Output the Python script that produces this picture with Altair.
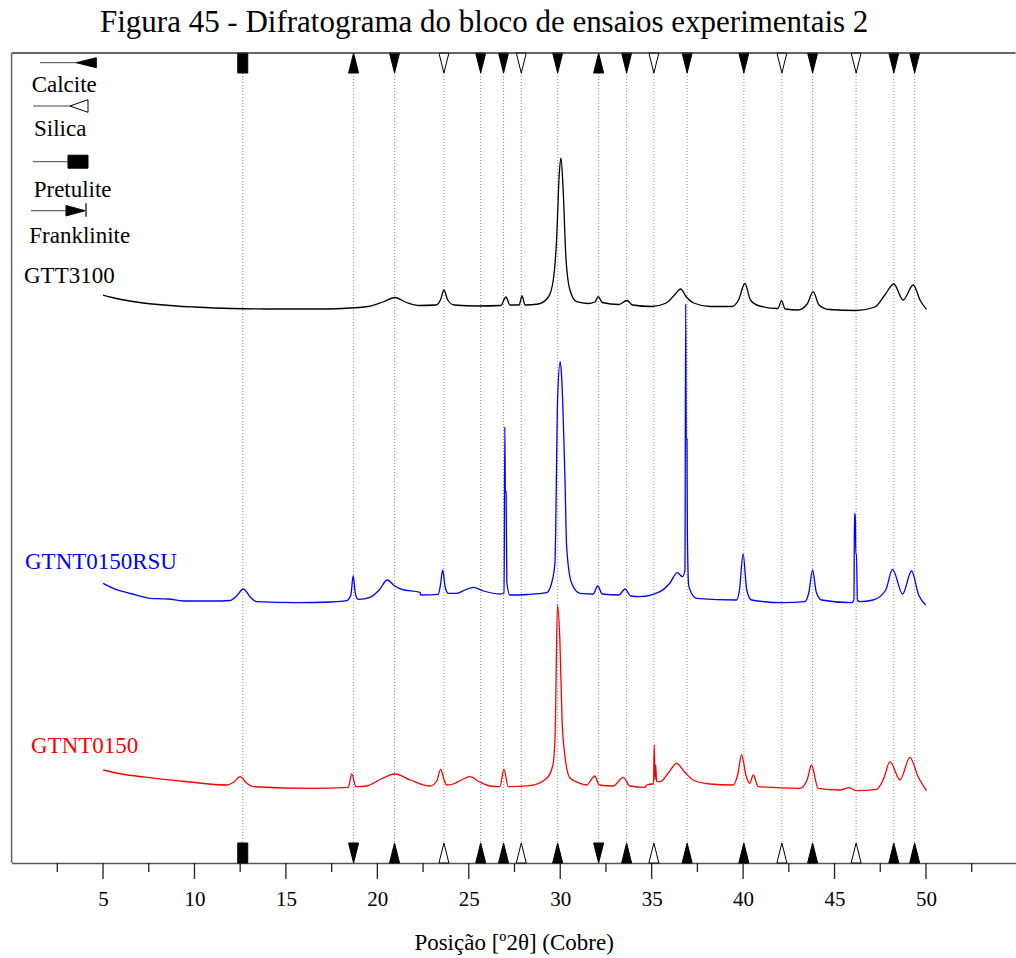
import altair as alt
import pandas as pd

# ---- diffraction patterns: 2θ (degrees) and stacked intensity (arbitrary units) ----
gtt3100_2theta = [5.0, 5.5, 6.0, 7.0, 8.0, 9.0, 10.0, 12.0, 14.0, 17.0, 18.5, 19.5, 20.3, 20.96,
                  21.6, 22.3, 23.2, 23.45, 23.64, 23.85, 24.2, 25.5, 26.75, 27.03, 27.25, 27.75,
                  27.91, 28.08, 28.8, 29.35, 29.62, 29.8, 29.95, 30.04, 30.16, 30.31, 30.53, 30.9,
                  31.5, 31.9, 32.08, 32.3, 33.2, 33.65, 33.95, 35.0, 35.8, 36.25, 36.58, 36.9,
                  37.3, 38.2, 39.4, 39.75, 40.1, 40.4, 40.9, 41.9, 42.1, 42.3, 43.0, 43.5, 43.83,
                  44.15, 44.7, 46.2, 47.2, 47.75, 48.24, 48.75, 49.3, 49.7, 50.03]
gtt3100_counts = [568, 565.5, 563.5, 560.5, 558.5, 557, 556, 554.5, 554, 554, 555, 556.5, 561, 565.5,
                  560.5, 557.5, 558, 563, 573, 563, 558, 557, 557.5, 566, 558, 558,
                  567, 558, 559, 566, 583, 623, 690, 705, 673, 606, 573, 561.3,
                  559.5, 561, 566.3, 560.5, 558.5, 562.5, 558, 556.5, 560, 568, 574, 566,
                  560, 556.5, 556.5, 563, 579.5, 563, 557, 554.5, 562.3, 554, 553, 559, 571.3,
                  558, 553.5, 552.5, 556, 568, 579, 563, 578, 562, 553.7]

gtnt0150rsu_2theta = [5.01, 5.56, 6.5, 7.57, 8.2, 8.57, 9.39, 11.0, 11.94, 12.3, 12.67, 13.05, 13.4,
                      15.59, 17.5, 18.32, 18.55, 18.68, 18.8, 18.96, 19.6, 20.1, 20.54, 20.95, 21.33,
                      22.33, 22.37, 23.33, 23.45, 23.57, 23.72, 23.88, 24.34, 24.8, 25.24, 25.8, 26.7,
                      26.93, 26.97, 27.0, 27.04, 27.08, 27.24, 28.2, 29.26, 29.53, 29.71, 29.86, 30.0,
                      30.08, 30.26, 30.35, 30.62, 31.08, 31.8, 32.05, 32.3, 33.2, 33.55, 33.85, 34.36,
                      35.45, 36.0, 36.4, 36.69, 36.82, 36.86, 36.89, 36.93, 36.95, 37.02, 37.1, 37.46,
                      39.64, 39.8, 40.0, 40.2, 40.46, 42.19, 43.38, 43.6, 43.8, 44.0, 44.29, 45.93,
                      46.06, 46.09, 46.14, 46.16, 46.2, 46.25, 46.39, 47.11, 47.8, 48.17, 48.72, 49.21,
                      49.6, 49.99]
gtnt0150rsu_counts = [279.7, 274.7, 269.5, 264.7, 264.2, 264, 262, 262, 262.5, 267, 274, 266, 261.3,
                      260.3, 261, 262.3, 268, 287.3, 269, 263.7, 265.7, 273, 283, 277, 273.7,
                      270.7, 268, 268.7, 278, 293, 275, 269.7, 269.7, 273, 275.7, 272, 269,
                      270, 436, 371, 371, 281, 268, 268.5, 270.3, 280, 300, 466.3, 501.3,
                      485, 383, 316.3, 280, 269.7, 269, 277, 269, 268, 274, 267, 266.3,
                      271.3, 280, 290.3, 286.3, 293, 559, 424, 424, 335, 278, 273, 264.7,
                      263, 273, 309, 273, 263, 260.3, 261.3, 271, 293, 271, 263, 260.3,
                      263, 349, 349, 309, 309, 263, 261.3, 263, 273, 293.7, 269, 292,
                      268, 258]

gtnt0150_2theta = [5.01, 6.0, 7.39, 9.5, 11.76, 12.15, 12.49, 12.85, 13.22, 16.5, 18.41, 18.6, 18.83,
                   19.41, 20.2, 20.96, 21.8, 22.88, 23.25, 23.46, 23.65, 23.79, 24.15, 24.6, 25.06,
                   25.6, 26.16, 26.7, 26.92, 27.16, 28.34, 29.26, 29.6, 29.72, 29.85, 29.98, 30.1,
                   30.25, 30.53, 31.08, 31.44, 31.89, 32.13, 32.9, 33.44, 33.81, 34.63, 34.72, 35.05,
                   35.1, 35.14, 35.18, 35.22, 35.27, 35.45, 35.95, 36.36, 36.8, 37.27, 38.18, 39.46,
                   39.7, 39.92, 40.15, 40.37, 40.55, 40.83, 43.1, 43.5, 43.74, 44.1, 45.29, 45.8,
                   46.2, 47.3, 47.7, 48.03, 48.58, 49.12, 49.57, 50.03]
gtnt0150_counts = [93, 89, 85.7, 81.5, 78, 81, 86.3, 80, 76.3, 74.7, 75.7, 89, 76.3,
                   77, 84, 89, 83, 77, 82, 93.7, 83, 78, 79, 83, 86.3,
                   81, 77, 76.3, 93.7, 76.3, 77.3, 84.7, 98, 128, 258, 223, 143,
                   108, 85, 79.7, 78, 87, 78, 77, 85.7, 77, 75.7, 78, 79,
                   79, 118, 83, 98, 81.3, 81.3, 91, 99.7, 91, 83, 79, 78,
                   88, 108, 88, 79.7, 88, 76.3, 74.7, 83, 98, 74.7, 73, 75.3,
                   72.3, 73.7, 85, 101.3, 83, 105.7, 86.3, 72.3]

# ---- reference phase positions (°2θ) ----
calcite_2theta = [20.94, 25.65, 26.90, 29.86, 33.63, 36.94, 40.04, 43.80, 48.24, 49.38]
silica_2theta = [23.64, 27.87, 35.12, 42.12, 46.18]
pretulite_2theta = [12.64]
franklinite_2theta = [18.70, 32.10]

# ---- axis ticks ----
major_ticks = [5, 10, 15, 20, 25, 30, 35, 40, 45, 50]
minor_ticks = [2.5, 7.5, 12.5, 17.5, 22.5, 27.5, 32.5, 37.5, 42.5, 47.5, 52.5]

SERIF = "Liberation Serif"
W, H = 1004, 810

xscale = alt.Scale(domain=[0, 54.9], nice=False, zero=False)
yscale = alt.Scale(domain=[0, 810], nice=False, zero=False)
xaxis = alt.Axis(values=major_ticks, ticks=False, tickSize=0, grid=False,
                 labelFont=SERIF, labelFontSize=21, labelColor="black",
                 labelBaseline="middle", labelPadding=37, labelFlush=False,
                 labelOverlap=False, domainColor="#555555", domainWidth=1.5,
                 title="Posição [º2θ] (Cobre)", titleFont=SERIF, titleFontSize=23,
                 titleFontWeight="normal", titleColor="black",
                 titleBaseline="middle", titleY=80)
X = alt.X("t:Q", scale=xscale, axis=xaxis)
Y = alt.Y("v:Q", scale=yscale, axis=None)

one = pd.DataFrame({"i": [0]})

# custom glyphs (unit box -1..1)
DOWN = "M-0.5,-1L0.5,-1L0,1Z"      # base on top, apex below
UP = "M0,-1L0.5,1L-0.5,1Z"         # apex on top
BLOCK = "M-0.5,-1L0.5,-1L0.5,1L-0.5,1Z"


def pattern(tt, vv, color):
    df = pd.DataFrame({"t": tt, "v": vv})
    return alt.Chart(df).mark_line(color=color, strokeWidth=1.3,
                                   interpolate="monotone").encode(x=X, y=Y)


def phase_marks(tt, top_shape, bottom_shape, filled=True):
    df = pd.DataFrame({"t": tt})
    fill = "black" if filled else "white"
    guide = alt.Chart(df).mark_rule(color="#8a8a8a", strokeWidth=1,
                                    strokeDash=[1, 2]).encode(
        x=X, y=alt.value(20), y2=alt.value(H - 20))
    top = alt.Chart(df).mark_point(shape=top_shape, size=400, filled=True, fill=fill,
                                   stroke="black", strokeWidth=1, opacity=1).encode(
        x=X, y=alt.value(10))
    bottom = alt.Chart(df).mark_point(shape=bottom_shape, size=400, filled=True, fill=fill,
                                      stroke="black", strokeWidth=1, opacity=1).encode(
        x=X, y=alt.value(H - 10))
    return [guide, top, bottom]


def label(text, x, y, color="black", size=23):
    return alt.Chart(one).mark_text(text=text, align="left", baseline="alphabetic",
                                    font=SERIF, fontSize=size, color=color).encode(
        x=alt.value(x), y=alt.value(y))


def hline(x1, x2, y, color="#444444", width=1.0):
    return alt.Chart(one).mark_rule(color=color, strokeWidth=width).encode(
        x=alt.value(x1), x2=alt.value(x2), y=alt.value(y))


def glyph(shape, size, x, y, fill="black"):
    return alt.Chart(one).mark_point(shape=shape, size=size, filled=True, fill=fill,
                                     stroke="black", strokeWidth=1, opacity=1).encode(
        x=alt.value(x), y=alt.value(y))


layers = []
# phase reference lines and markers
layers += phase_marks(pretulite_2theta, BLOCK, BLOCK)
layers += phase_marks(franklinite_2theta, UP, DOWN)
layers += phase_marks(calcite_2theta, DOWN, UP)
layers += phase_marks(silica_2theta, DOWN, UP, filled=False)

# patterns
layers += [
    pattern(gtt3100_2theta, gtt3100_counts, "#000000"),
    pattern(gtnt0150rsu_2theta, gtnt0150rsu_counts, "#0000ff"),
    pattern(gtnt0150_2theta, gtnt0150_counts, "#ff0000"),
]

# x-axis ticks
layers += [
    alt.Chart(pd.DataFrame({"t": major_ticks})).mark_rule(color="#222222", strokeWidth=1.3).encode(
        x=X, y=alt.value(H), y2=alt.value(H + 16)),
    alt.Chart(pd.DataFrame({"t": minor_ticks})).mark_rule(color="#222222", strokeWidth=1.3).encode(
        x=X, y=alt.value(H), y2=alt.value(H + 9)),
]

# frame: top and left edges
layers += [
    hline(0, W, 0, color="#333333", width=1.5),
    alt.Chart(one).mark_rule(color="#666666", strokeWidth=1.5).encode(
        x=alt.value(0), y=alt.value(0), y2=alt.value(H)),
]

# phase key
layers += [
    hline(28.4, 66, 9.7), glyph("M-1,0L1,-0.5L1,0.5Z", 400, 74.7, 9.7),
    label("Calcite", 20.1, 39.3),
    hline(21.4, 59, 53), glyph("M-1,0L1,-0.7L1,0.7Z", 324, 67.4, 53, fill="white"),
    label("Silica", 22.4, 82.7),
    hline(21.4, 57, 108.7), glyph("M-1,-0.65L1,-0.65L1,0.65L-1,0.65Z", 400, 66.4, 108.7),
    label("Pretulite", 22.1, 143.7),
    hline(19.4, 55, 157.7), glyph("M-1,-0.55L1,0L-1,0.55Z", 361, 63.9, 157.7),
    alt.Chart(one).mark_rule(color="black", strokeWidth=1.2).encode(
        x=alt.value(74.4), y=alt.value(150.3), y2=alt.value(163.7)),
    label("Franklinite", 17.7, 190.3),
]

# sample names
layers += [
    label("GTT3100", 12.4, 229.7),
    label("GTNT0150RSU", 13.4, 516, color="#0000ff"),
    label("GTNT0150", 19.4, 700, color="#ff0000"),
]

# heading
layers += [label("Figura 45 - Difratograma do bloco de ensaios experimentais 2", 88.4, -21, size=31)]

chart = alt.layer(*layers).properties(
    width=W, height=H,
    autosize=alt.AutoSizeParams(type="none"),
    padding={"left": 11.6, "top": 53, "right": 0, "bottom": 95},
).configure_view(stroke=None)

chart.save("out.html", embed_options={"renderer": "svg", "actions": False})
